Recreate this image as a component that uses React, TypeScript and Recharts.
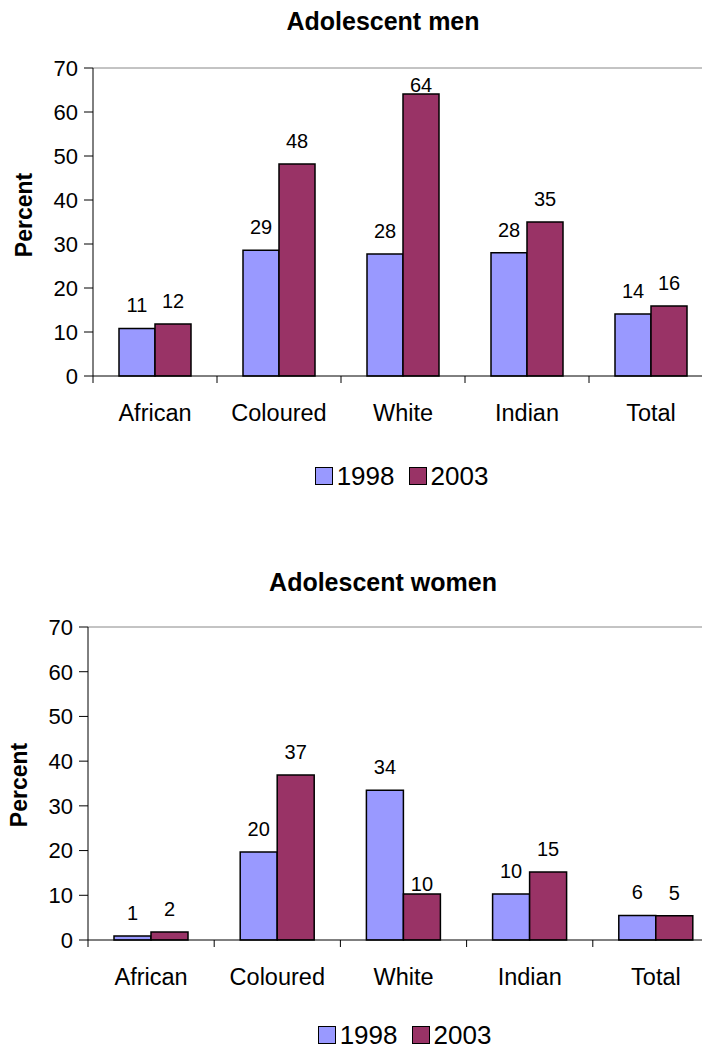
import React from "react";
import {
  BarChart,
  Bar,
  XAxis,
  YAxis,
  Legend,
  LabelList,
  ReferenceLine,
} from "recharts";

const categories = ["African", "Coloured", "White", "Indian", "Total"];
const men1998 = [10.8, 28.6, 27.7, 28.0, 14.1];
const men2003 = [11.8, 48.2, 64.1, 35.0, 15.9];
const women1998 = [0.9, 19.7, 33.5, 10.3, 5.5];
const women2003 = [1.8, 36.9, 10.3, 15.2, 5.4];
const yTicks = [0, 10, 20, 30, 40, 50, 60, 70];
const seriesNames = ["1998", "2003"];

const FONT = "'Liberation Sans', Arial, sans-serif";
const COLOR_1998 = "#9999FF";
const COLOR_2003 = "#993366";

const buildRows = (a: number[], b: number[]) =>
  categories.map((name, i) => ({ name, v1998: a[i], v2003: b[i] }));

const menRows = buildRows(men1998, men2003);
const womenRows = buildRows(women1998, women2003);

// label renderer: sits above the bar, kept inside the plot, some labels hug the bar
const makeLabel = (plotTop: number, tight: number[] = []) => (props: any) => {
  const x = Number(props.x);
  const y = Number(props.y);
  const w = Number(props.width);
  const idx = props.index;
  let base = tight.includes(idx) ? y - 3 : y - 16;
  base = Math.max(base, plotTop + 24);
  return (
    <text
      x={x + w / 2}
      y={base}
      textAnchor="middle"
      fontFamily={FONT}
      fontSize={20}
      fill="#000"
    >
      {Math.round(Number(props.value))}
    </text>
  );
};

const CategoryTick = (props: any) => {
  const { x, y, payload } = props;
  const half = payload && payload.offset ? payload.offset : 62;
  return (
    <g>
      <line x1={x - half} x2={x - half} y1={y} y2={y + 7} stroke="#000" strokeWidth={1} />
      <text x={x} y={y + 45} textAnchor="middle" fontFamily={FONT} fontSize={23.5} fill="#000">
        {payload.value}
      </text>
    </g>
  );
};

const makeLegend = (h: number) => (props: any) => {
  const items = props.payload || [];
  return (
    <div
      style={{
        height: h,
        display: "flex",
        alignItems: "center",
        justifyContent: "center",
        paddingLeft: 90,
        fontFamily: FONT,
        fontSize: 26,
        lineHeight: "26px",
        color: "#000",
      }}
    >
      {items.map((p: any, i: number) => (
        <span key={i} style={{ display: "flex", alignItems: "center", marginRight: i === 0 ? 14 : 0 }}>
          <span
            style={{
              width: 16,
              height: 16,
              background: p.color,
              border: "1px solid #000",
              marginRight: 4,
              display: "inline-block",
            }}
          />
          {p.value}
        </span>
      ))}
    </div>
  );
};

interface PanelProps {
  data: { name: string; v1998: number; v2003: number }[];
  top: number;
  height: number;
  legendHeight: number;
  marginTop: number;
  yWidth: number;
  marginRight: number;
  barSize: number;
  tight1998?: number[];
  tight2003?: number[];
}

const Panel: React.FC<PanelProps> = ({
  data,
  top,
  height,
  legendHeight,
  marginTop,
  yWidth,
  marginRight,
  barSize,
  tight1998 = [],
  tight2003 = [],
}) => (
  <div style={{ position: "absolute", left: 0, top }}>
    <BarChart
      width={730}
      height={height}
      data={data}
      margin={{ top: marginTop, right: marginRight, bottom: 0, left: 0 }}
      barGap={0}
    >
      <ReferenceLine y={70} stroke="#888888" strokeWidth={1} />
      <XAxis
        dataKey="name"
        height={60}
        axisLine={{ stroke: "#000", strokeWidth: 1 }}
        tickLine={false}
        tickSize={0}
        tickMargin={0}
        interval={0}
        tick={<CategoryTick />}
      />
      <YAxis
        width={yWidth}
        domain={[0, 70]}
        ticks={yTicks}
        interval={0}
        axisLine={{ stroke: "#000", strokeWidth: 1 }}
        tickLine={{ stroke: "#000" }}
        tickSize={9}
        tickMargin={6}
        tick={{ fontFamily: FONT, fontSize: 22, fill: "#000" }}
      />
      <Legend verticalAlign="bottom" content={makeLegend(legendHeight)} />
      <Bar
        dataKey="v1998"
        name={seriesNames[0]}
        fill={COLOR_1998}
        stroke="#000"
        strokeWidth={1.5}
        barSize={barSize}
        isAnimationActive={false}
      >
        <LabelList dataKey="v1998" content={makeLabel(marginTop, tight1998)} />
      </Bar>
      <Bar
        dataKey="v2003"
        name={seriesNames[1]}
        fill={COLOR_2003}
        stroke="#000"
        strokeWidth={1.5}
        barSize={barSize}
        isAnimationActive={false}
      >
        <LabelList dataKey="v2003" content={makeLabel(marginTop, tight2003)} />
      </Bar>
    </BarChart>
  </div>
);

const titleStyle = (top: number): React.CSSProperties => ({
  position: "absolute",
  top,
  left: 0,
  width: 766,
  textAlign: "center",
  fontFamily: FONT,
  fontWeight: "bold",
  fontSize: 25,
  lineHeight: "25px",
  color: "#000",
});

const percentStyle = (cx: number, cy: number): React.CSSProperties => ({
  position: "absolute",
  left: cx,
  top: cy,
  transform: "translate(-50%, -50%) rotate(-90deg)",
  fontFamily: FONT,
  fontWeight: "bold",
  fontSize: 23,
  lineHeight: "23px",
  color: "#000",
  whiteSpace: "nowrap",
});

export default function App() {
  return (
    <div
      style={{
        position: "relative",
        width: 710,
        height: 1055,
        overflow: "hidden",
        margin: -8,
        background: "#fff",
      }}
    >
      <div style={titleStyle(9)}>Adolescent men</div>
      <div style={percentStyle(24, 215)}>Percent</div>
      <Panel
        data={menRows}
        top={0}
        height={516}
        legendHeight={80}
        marginTop={68}
        yWidth={93}
        marginRight={17}
        barSize={36}
      />

      <div style={titleStyle(570)}>Adolescent women</div>
      <div style={percentStyle(19, 785)}>Percent</div>
      <Panel
        data={womenRows}
        top={560}
        height={510}
        legendHeight={70}
        marginTop={67}
        yWidth={88}
        marginRight={11}
        barSize={37}
        tight2003={[2]}
      />
    </div>
  );
}
